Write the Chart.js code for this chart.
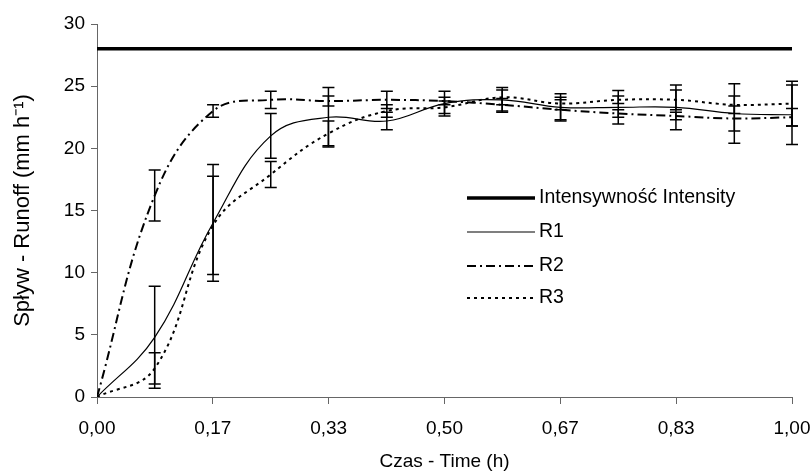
<!DOCTYPE html>
<html>
<head>
<meta charset="utf-8">
<script src="https://cdn.jsdelivr.net/npm/chart.js@4.4.1/dist/chart.umd.min.js"></script>
<style>
  html, body { margin: 0; padding: 0; background: #fff; }
  #wrap { width: 812px; height: 473px; }
</style>
</head>
<body>
<div id="wrap"><canvas id="runoffChart" width="812" height="473"></canvas></div>
<script>
// time (h) of each measurement
const times = [0, 0.083, 0.167, 0.25, 0.333, 0.417, 0.5, 0.583, 0.667, 0.75, 0.833, 0.917, 1.0];

const intensity = [28, 28, 28, 28, 28, 28, 28, 28, 28, 28, 28, 28, 28];
const r1 = [0, 4.8, 14.0, 21.0, 22.5, 22.2, 23.6, 23.9, 23.3, 23.3, 23.3, 22.8, 22.7];
const r1Err = [0, 4.1, 4.7, 1.8, 2.4, 0.7, 1.0, 1.0, 1.1, 1.35, 1.8, 2.4, 2.4];
const r2 = [0, 16.2, 23.0, 23.9, 23.8, 23.9, 23.8, 23.5, 23.1, 22.8, 22.6, 22.4, 22.5];
const r2Err = [0, 2.05, 0.5, 0.7, 0.4, 0.7, 0.3, 0.5, 0.8, 0.3, 0.3, 1.0, 0.7];
const r3 = [0, 2.3, 13.8, 17.9, 21.2, 23.0, 23.3, 24.1, 23.6, 23.9, 23.9, 23.5, 23.6];
const r3Err = [0, 1.25, 3.95, 1.05, 1.0, 0.5, 0.5, 0.6, 0.5, 0.3, 0.8, 0.7, 1.8];

const xTickValues = [0, 0.1667, 0.3333, 0.5, 0.6667, 0.8333, 1.0];
const xTickLabels = ["0,00", "0,17", "0,33", "0,50", "0,67", "0,83", "1,00"];

const FONT = "'Liberation Sans', Arial, sans-serif";

function toPoints(ys) {
  return ys.map((y, i) => ({ x: times[i], y: y }));
}

// vertical error bars with caps, drawn through the chart scales
const errorBars = {
  id: "errorBars",
  afterDatasetsDraw(chart) {
    const ctx = chart.ctx;
    const xs = chart.scales.x, ys = chart.scales.y;
    ctx.save();
    ctx.strokeStyle = "#000";
    ctx.lineWidth = 1.5;
    chart.data.datasets.forEach(ds => {
      if (!ds.err) return;
      ds.data.forEach((p, i) => {
        const e = ds.err[i];
        if (!e) return;
        const px = xs.getPixelForValue(p.x);
        const top = ys.getPixelForValue(p.y + e);
        const bot = ys.getPixelForValue(p.y - e);
        ctx.beginPath();
        ctx.moveTo(px, top); ctx.lineTo(px, bot);
        ctx.moveTo(px - 6, top); ctx.lineTo(px + 6, top);
        ctx.moveTo(px - 6, bot); ctx.lineTo(px + 6, bot);
        ctx.stroke();
      });
    });
    ctx.restore();
  }
};

// legend placed inside the plot, like the original
const innerLegend = {
  id: "innerLegend",
  afterDraw(chart) {
    const ctx = chart.ctx;
    const rows = [198, 232, 266, 298];
    ctx.save();
    ctx.font = "19.5px " + FONT;
    ctx.fillStyle = "#000";
    ctx.textBaseline = "middle";
    chart.data.datasets.forEach((ds, i) => {
      const y = rows[i];
      ctx.beginPath();
      ctx.strokeStyle = "#000";
      ctx.lineWidth = ds.borderWidth;
      ctx.setLineDash(ds.borderDash || []);
      ctx.moveTo(467, y); ctx.lineTo(535, y);
      ctx.stroke();
      ctx.setLineDash([]);
      ctx.fillText(ds.label, 539, y);
    });
    ctx.restore();
  }
};

const ctx = document.getElementById("runoffChart").getContext("2d");
new Chart(ctx, {
  type: "line",
  data: {
    datasets: [
      { label: "Intensywność Intensity", data: toPoints(intensity), borderColor: "#000", borderWidth: 3.5, tension: 0 },
      { label: "R1", data: toPoints(r1), err: r1Err, borderColor: "#000", borderWidth: 1.2, tension: 0.4 },
      { label: "R2", data: toPoints(r2), err: r2Err, borderColor: "#000", borderWidth: 2, borderDash: [9, 4, 2, 4], tension: 0.4 },
      { label: "R3", data: toPoints(r3), err: r3Err, borderColor: "#000", borderWidth: 2, borderDash: [3, 4], tension: 0.4 }
    ]
  },
  options: {
    responsive: false,
    animation: false,
    layout: { padding: { top: 24, right: 20, left: 0, bottom: 0 } },
    elements: { point: { radius: 0 } },
    plugins: { legend: { display: false }, tooltip: { enabled: false } },
    scales: {
      x: {
        type: "linear",
        min: 0, max: 1,
        afterBuildTicks: s => { s.ticks = xTickValues.map(v => ({ value: v })); },
        afterFit: s => { s.height = 76; s.paddingLeft = 0; s.paddingRight = 0; },
        ticks: {
          callback: (v, i) => xTickLabels[i],
          color: "#000", font: { family: FONT, size: 19 }, padding: 13, maxRotation: 0
        },
        grid: { drawOnChartArea: false, tickLength: 7, color: "#666" },
        border: { color: "#666", width: 1 },
        title: { display: true, text: "Czas - Time (h)", color: "#000", font: { family: FONT, size: 19 }, padding: { top: 4, bottom: 0 } }
      },
      y: {
        min: 0, max: 30,
        afterFit: s => { s.width = 97; s.paddingTop = 0; s.paddingBottom = 0; },
        ticks: { stepSize: 5, color: "#000", font: { family: FONT, size: 19 }, padding: 6 },
        grid: { drawOnChartArea: false, tickLength: 6, color: "#666" },
        border: { color: "#666", width: 1 },
        title: { display: true, text: "Spływ - Runoff (mm h⁻¹)", color: "#000", font: { family: FONT, size: 22 }, padding: { top: 10, bottom: 4 } }
      }
    }
  },
  plugins: [errorBars, innerLegend]
});
</script>
</body>
</html>
